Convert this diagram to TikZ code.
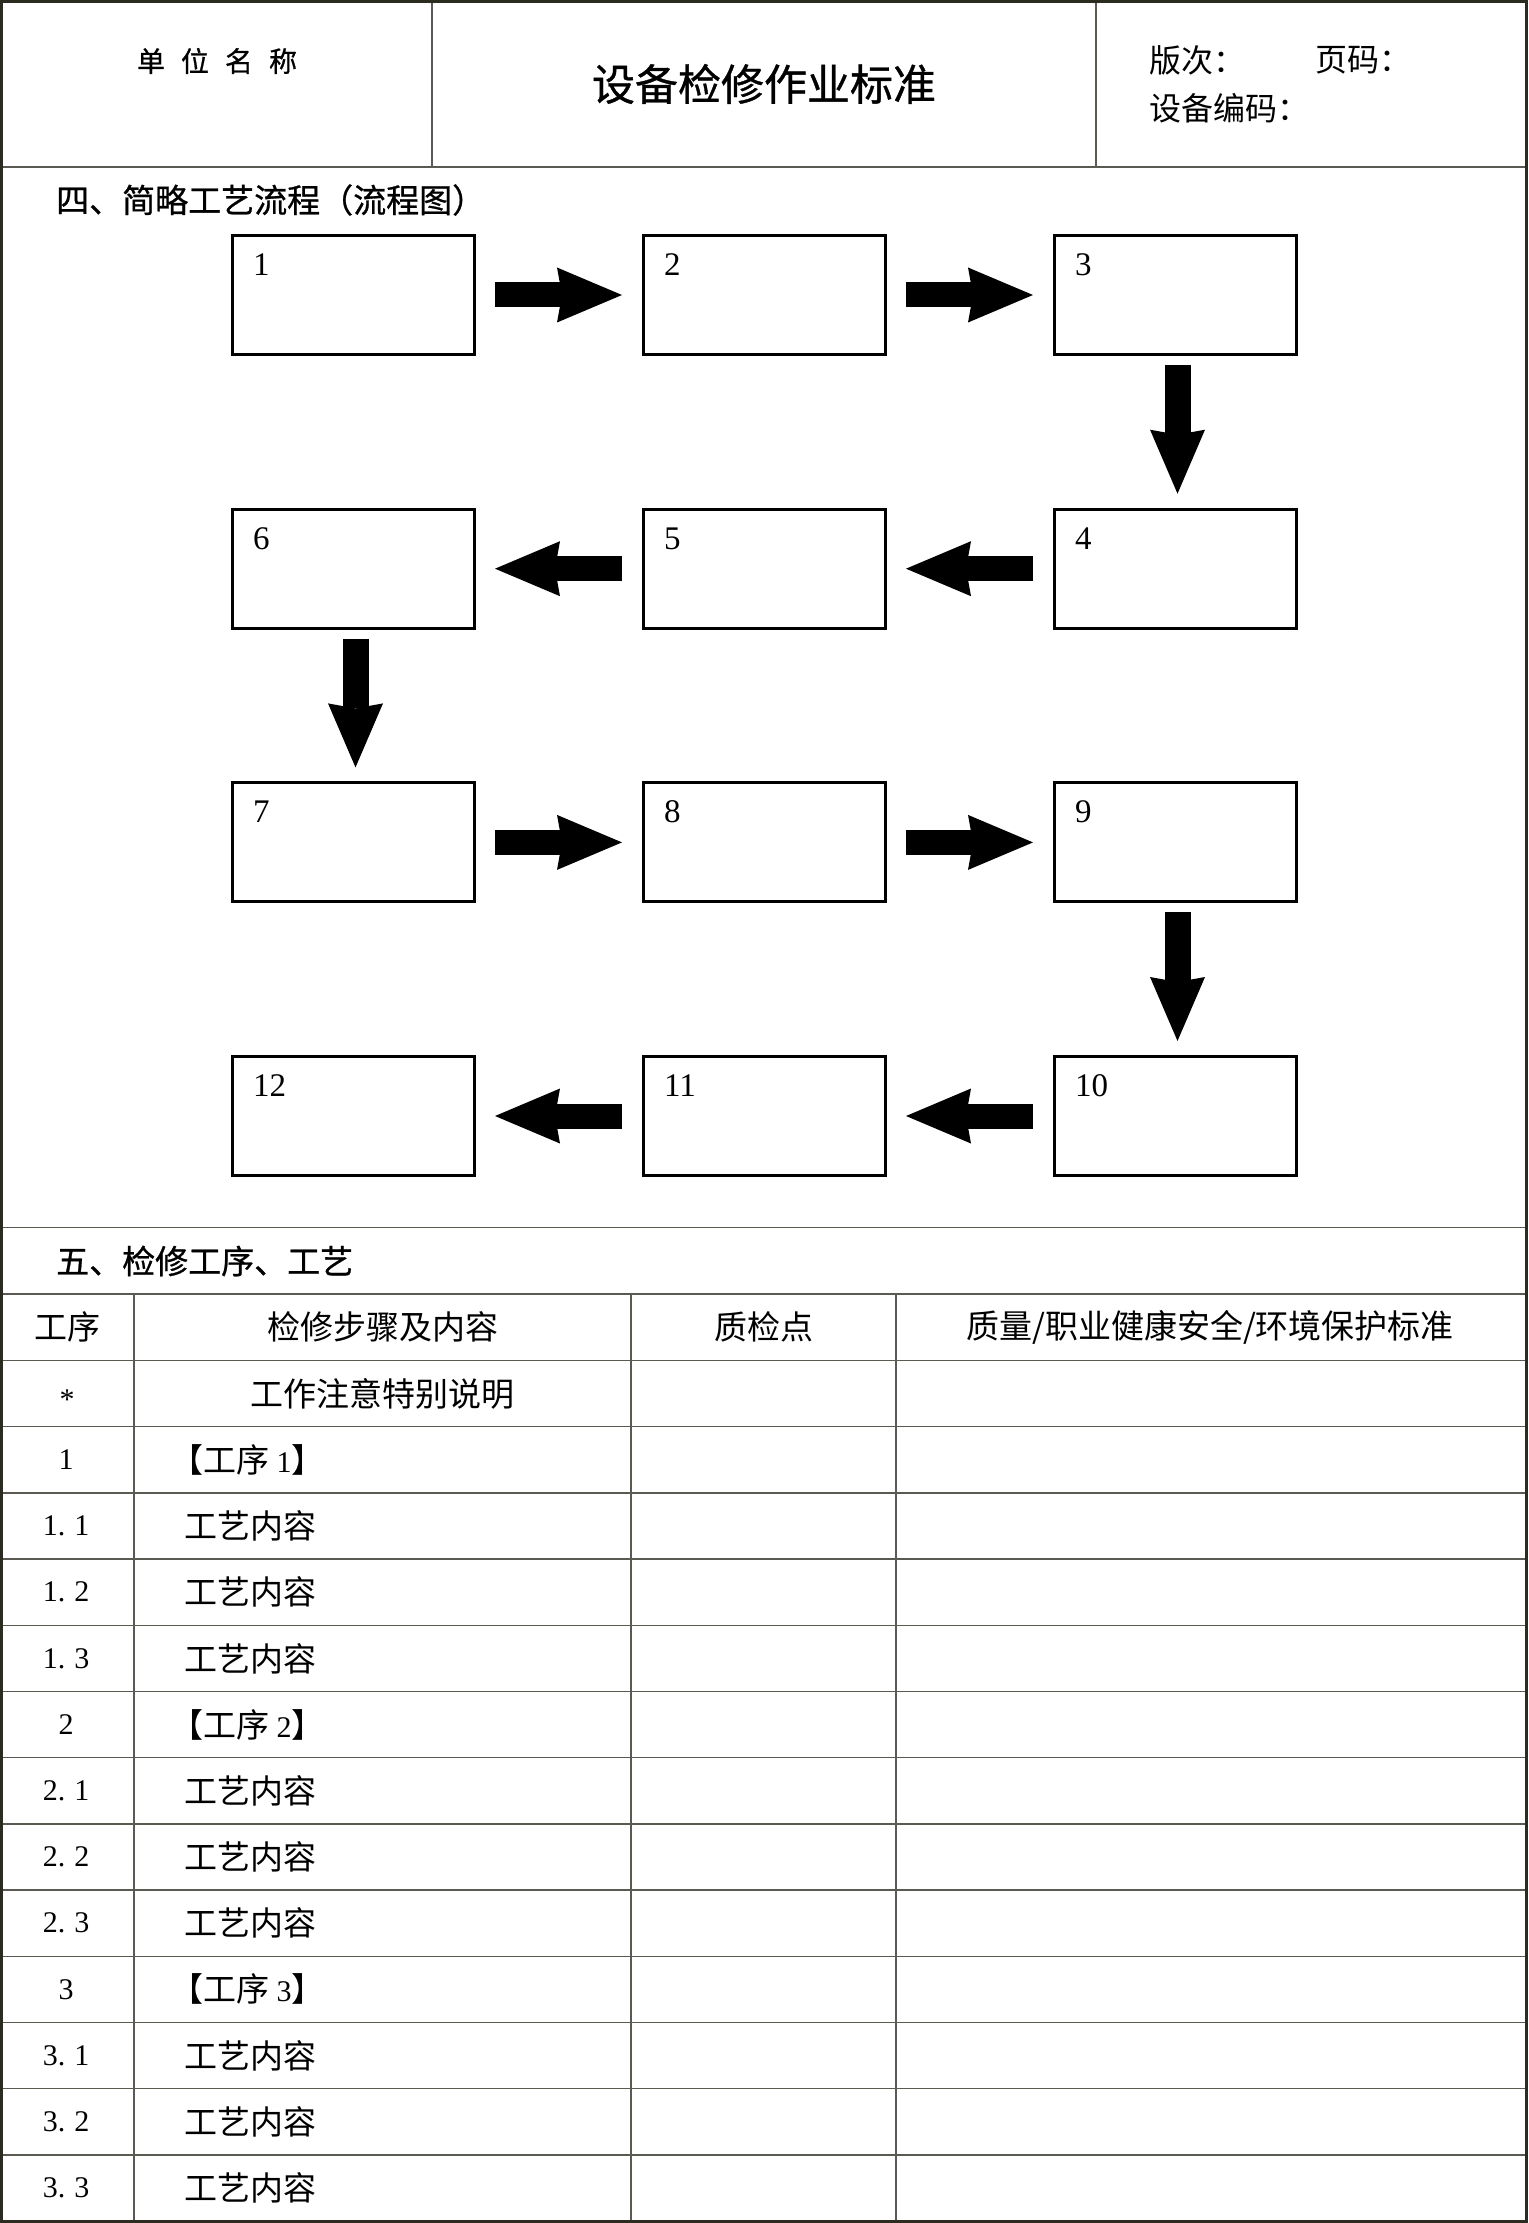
\documentclass[tikz,border=0pt]{standalone}
\usepackage{fontspec}
\setmainfont{Liberation Serif}
\newfontfamily\cjk{Noto Sans CJK SC}
\newfontfamily\hei[FakeBold=0.8]{Noto Sans CJK SC}
\usetikzlibrary{arrows.meta}
\definecolor{frameclr}{HTML}{2B2B1F}
\definecolor{gridclr}{HTML}{5A5A52}
\newcommand{\tcjk}{\cjk\fontsize{33}{33}\selectfont}
\newcommand{\tnum}{\rmfamily\fontsize{30}{30}\selectfont}
\begin{document}
\begin{tikzpicture}[x=1pt,y=-1pt,
 gridline/.style={draw=gridclr,line width=1.5pt},
 outerframe/.style={draw=frameclr,line width=3pt},
 flowbox/.style={draw=black,line width=3pt,minimum width=242pt,minimum height=119pt,inner sep=0pt,outer sep=0pt},
 boxlabel/.style={anchor=base west,inner sep=0pt,font=\rmfamily\fontsize{33}{33}\selectfont},
 harrow/.style={line width=25pt,-{Stealth[length=65pt,width=55pt,inset=5pt,line width=0pt]},shorten <=21pt,shorten >=21pt},
 varrow/.style={line width=26pt,-{Stealth[length=64pt,width=55pt,inset=5pt,line width=0pt]},shorten <=10.5pt,shorten >=15.5pt},
 cell/.style={inner sep=0pt,font=\tcjk},
 lcell/.style={inner sep=0pt,anchor=west,font=\tcjk},
 numcell/.style={inner sep=0pt,font=\tnum},
 heading/.style={anchor=west,inner sep=0pt,font=\hei\fontsize{33}{33}\selectfont},
 hdrtext/.style={anchor=west,inner sep=0pt,font=\cjk\fontsize{32}{32}\selectfont}]
\useasboundingbox (0,0) rectangle (1528,2223);
\fill[white] (0,0) rectangle (1528,2223);

% ---- grid lines
\draw[gridline] (0,167) -- (1528,167);
\draw[gridline] (432,0) -- (432,167);
\draw[gridline] (1096,0) -- (1096,167);
\draw[gridline] (0,1227.5) -- (1528,1227.5);
\draw[gridline] (0,1294) -- (1528,1294);
\foreach \k in {0,...,12} \draw[gridline] (0,{1360.5+66.2*\k}) -- (1528,{1360.5+66.2*\k});
\foreach \x in {134,631,896} \draw[gridline] (\x,1294) -- (\x,2223);

% ---- header
\node[inner sep=0pt,font=\hei\fontsize{28}{28}\selectfont] (unit) at (217,61) {单\hspace{16pt}位\hspace{16pt}名\hspace{16pt}称};
\node[inner sep=0pt,font=\hei\fontsize{43}{43}\selectfont] (title) at (764,84) {设备检修作业标准};
\node[hdrtext] (ver) at (1149,60) {版次：};
\node[hdrtext] (page) at (1315,60) {页码：};
\node[hdrtext] (code) at (1149,108.5) {设备编码：};

% ---- section 4
\node[heading] (sec4) at (56,200) {四、简略工艺流程（流程图）};

\foreach \n/\cx/\cy in {1/353/295, 2/764/295, 3/1175/295,
  4/1175/568.7, 5/764/568.7, 6/353/568.7,
  7/353/842.4, 8/764/842.4, 9/1175/842.4,
  10/1175/1116, 11/764/1116, 12/353/1116}{
  \node[flowbox] (b\n) at (\cx,\cy) {};
  \node[boxlabel] (l\n) at ([shift={(21,40)}]b\n.north west) {\n};
}
\draw[harrow] (b1) -- (b2);
\draw[harrow] (b2) -- (b3);
\draw[varrow] ([xshift=2.5pt]b3.south) -- ([xshift=2.5pt]b4.north);
\draw[harrow] (b4) -- (b5);
\draw[harrow] (b5) -- (b6);
\draw[varrow] ([xshift=2.5pt]b6.south) -- ([xshift=2.5pt]b7.north);
\draw[harrow] (b7) -- (b8);
\draw[harrow] (b8) -- (b9);
\draw[varrow] ([xshift=2.5pt]b9.south) -- ([xshift=2.5pt]b10.north);
\draw[harrow] (b10) -- (b11);
\draw[harrow] (b11) -- (b12);

% ---- section 5
\node[heading] (sec5) at (56,1261) {五、检修工序、工艺};
\node[cell] (h1) at (67,1327) {工序};
\node[cell] (h2) at (382.5,1327) {检修步骤及内容};
\node[cell] (h3) at (763.5,1327) {质检点};
\node[cell] (h4) at (1210,1327) {质量/职业健康安全/环境保护标准};

\node[numcell,anchor=base] (n0) at (67,1409) {*};
\node[cell] (s0) at (382.5,1393.6) {工作注意特别说明};

\node[numcell] (n1) at (66,1459.8) {1};
\node[lcell] (s1) at (170,1459.8) {【工序 {\tnum 1}】};
\node[numcell] (n2) at (66,1526.0) {1.\kern9pt 1};
\node[lcell] (s2) at (184,1526.0) {工艺内容};
\node[numcell] (n3) at (66,1592.2) {1.\kern9pt 2};
\node[lcell] (s3) at (184,1592.2) {工艺内容};
\node[numcell] (n4) at (66,1658.4) {1.\kern9pt 3};
\node[lcell] (s4) at (184,1658.4) {工艺内容};

\node[numcell] (n5) at (66,1724.6) {2};
\node[lcell] (s5) at (170,1724.6) {【工序 {\tnum 2}】};
\node[numcell] (n6) at (66,1790.8) {2.\kern9pt 1};
\node[lcell] (s6) at (184,1790.8) {工艺内容};
\node[numcell] (n7) at (66,1857.0) {2.\kern9pt 2};
\node[lcell] (s7) at (184,1857.0) {工艺内容};
\node[numcell] (n8) at (66,1923.2) {2.\kern9pt 3};
\node[lcell] (s8) at (184,1923.2) {工艺内容};

\node[numcell] (n9) at (66,1989.4) {3};
\node[lcell] (s9) at (170,1989.4) {【工序 {\tnum 3}】};
\node[numcell] (n10) at (66,2055.6) {3.\kern9pt 1};
\node[lcell] (s10) at (184,2055.6) {工艺内容};
\node[numcell] (n11) at (66,2121.8) {3.\kern9pt 2};
\node[lcell] (s11) at (184,2121.8) {工艺内容};
\node[numcell] (n12) at (66,2188.0) {3.\kern9pt 3};
\node[lcell] (s12) at (184,2188.0) {工艺内容};

% ---- outer frame
\draw[outerframe] (1.5,1.3) rectangle (1526.5,2221.5);
\end{tikzpicture}
\end{document}
